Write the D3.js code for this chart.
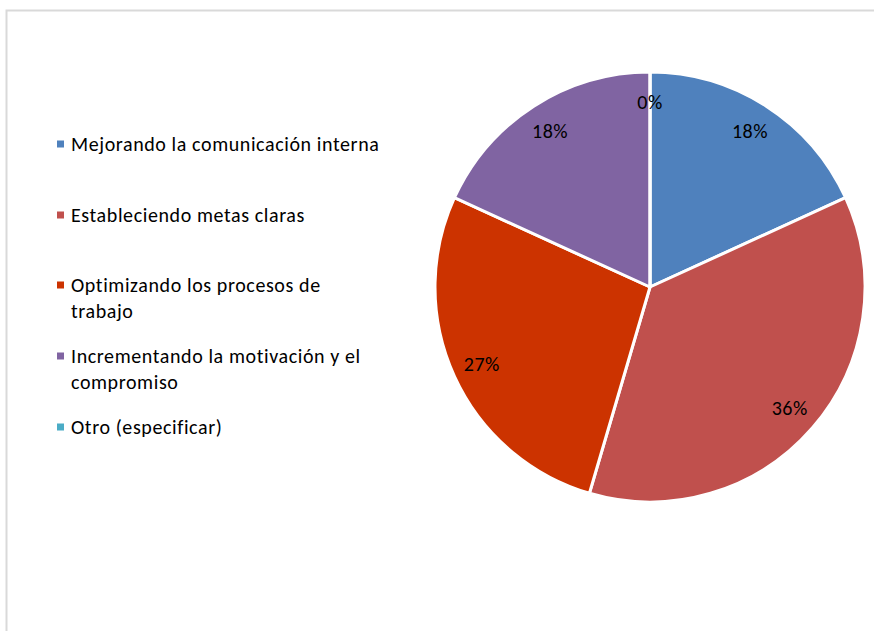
<!DOCTYPE html>
<html>
<head>
<meta charset="utf-8">
<script src="https://cdn.jsdelivr.net/npm/d3@7"></script>
<style>
  body { margin: 0; background: #fff; }
  svg text { font-family: Carlito, Calibri, Lato, sans-serif; fill: #000; }
</style>
</head>
<body>
<svg id="chart"></svg>
<script>
// Chart data
const categories = [
    'Mejorando la comunicación interna',
    'Estableciendo metas claras',
    'Optimizando los procesos de trabajo',
    'Incrementando la motivación y el compromiso',
    'Otro (especificar)'
];
const values = [2, 4, 3, 2, 0];
const colorList = ['#4f81bd', '#c0504d', '#cc3300', '#8064a2', '#4bacc6'];
// legend lines as wrapped in the original
const legendLines = [
    ['Mejorando la comunicación interna'],
    ['Estableciendo metas claras'],
    ['Optimizando los procesos de', 'trabajo'],
    ['Incrementando la motivación y el', 'compromiso'],
    ['Otro (especificar)']
];

const width = 874;
const height = 631;
const cx = 650, cy = 287, radius = 215;

const svg = d3.select('#chart')
    .attr('width', width)
    .attr('height', height);

// chart area border
svg.append('rect')
    .attr('x', 6.5).attr('y', 10.5)
    .attr('width', width).attr('height', height)
    .attr('fill', '#fff')
    .attr('stroke', '#d9d9d9')
    .attr('stroke-width', 2);

const color = d3.scaleOrdinal().domain(categories).range(colorList);

const pie = d3.pie().value(d => d.value).sort(null);
const arcData = pie(categories.map((c, i) => ({ label: c, value: values[i] })));
const total = d3.sum(values);

const arc = d3.arc().innerRadius(0).outerRadius(radius);
const labelArc = d3.arc().innerRadius(radius * 0.86).outerRadius(radius * 0.86);

const g = svg.append('g').attr('transform', `translate(${cx},${cy})`);

g.selectAll('path')
    .data(arcData)
    .enter()
    .append('path')
    .attr('d', arc)
    .attr('fill', d => color(d.data.label))
    .attr('stroke', '#fff')
    .attr('stroke-width', 3)
    .attr('stroke-linejoin', 'round');

g.selectAll('text.pct')
    .data(arcData)
    .enter()
    .append('text')
    .attr('class', 'pct')
    .attr('transform', d => `translate(${labelArc.centroid(d)})`)
    .attr('text-anchor', 'middle')
    .attr('dy', '0.35em')
    .style('font-size', '20px')
    .style('letter-spacing', '0.5px')
    .text(d => Math.round(d.data.value / total * 100) + '%');

// legend
const legendTop = [144, 215, 285, 356, 427];
const legend = svg.append('g');
legendLines.forEach((lines, i) => {
    const row = legend.append('g').attr('transform', `translate(0,${legendTop[i]})`);
    row.append('rect')
        .attr('x', 57).attr('y', -3.5)
        .attr('width', 7).attr('height', 7)
        .attr('fill', colorList[i]);
    lines.forEach((ln, j) => {
        row.append('text')
            .attr('x', 71)
            .attr('y', j * 26)
            .attr('dy', '0.35em')
            .style('font-size', '20px')
            .style('letter-spacing', '0.6px')
            .text(ln);
    });
});
</script>
</body>
</html>
